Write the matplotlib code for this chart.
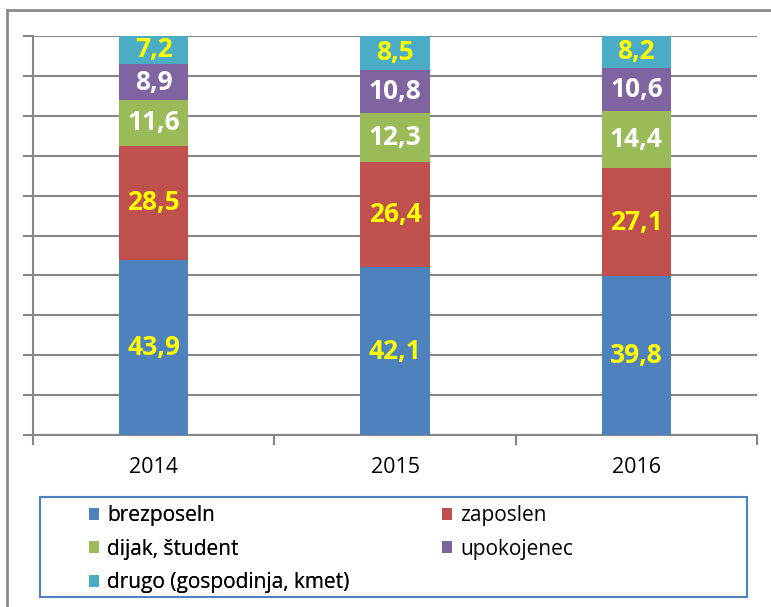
import matplotlib
matplotlib.use("Agg")
import matplotlib.pyplot as plt
from matplotlib.patches import Rectangle
from matplotlib.lines import Line2D
import numpy as np

years = ["2014", "2015", "2016"]
series_names = ["brezposeln", "zaposlen", "dijak, študent", "upokojenec", "drugo (gospodinja, kmet)"]
brezposeln = [43.9, 42.1, 39.8]
zaposlen = [28.5, 26.4, 27.1]
dijak = [11.6, 12.3, 14.4]
upokojenec = [8.9, 10.8, 10.6]
drugo = [7.2, 8.5, 8.2]
series_values = [brezposeln, zaposlen, dijak, upokojenec, drugo]
colors = ["#4F81BD", "#C0504D", "#9BBB59", "#8064A2", "#4BACC6"]
label_colors = ["#FFFF00", "#FFFF00", "#FFFFFF", "#FFFFFF", "#FFFF00"]

plt.rcParams['font.family'] = ['Open Sans', 'DejaVu Sans']

W, H = 771, 607
fig = plt.figure(figsize=(W / 100, H / 100), dpi=100)
ax = fig.add_axes([33 / W, 1 - 435 / H, (757 - 33) / W, (435 - 36) / H])

x = np.arange(len(years))
bottom = np.zeros(len(years))
handles = []
for name, vals, c, lc in zip(series_names, series_values, colors, label_colors):
    vals = np.array(vals)
    bars = ax.bar(x, vals, width=0.286, bottom=bottom, color=c, label=name, zorder=3)
    handles.append(bars)
    for xi, b, v in zip(x, bottom, vals):
        ax.text(xi, b + v / 2, f"{v:.1f}".replace(".", ","), ha="center", va="center",
                color=lc, fontsize=19, fontweight="bold", zorder=4)
    bottom += vals

gray = "#868686"
ax.set_xlim(-0.5, len(years) - 0.5)
ax.set_ylim(0, 100)
ax.set_yticks(np.arange(0, 101, 10))
ax.set_yticklabels([])
ax.yaxis.grid(True, color=gray, linewidth=1.5, zorder=0)
ax.tick_params(axis="y", length=7, width=1.5, color=gray, direction="out")
ax.set_xticks(x)
ax.set_xticklabels(years, fontsize=15.5)
ax.tick_params(axis="x", length=0, pad=16)
ax.set_xticks(np.arange(-0.5, len(years), 1.0), minor=True)
ax.tick_params(axis="x", which="minor", length=7, width=1.5, color=gray, direction="out")
for s in ["top", "right"]:
    ax.spines[s].set_visible(False)
for s in ["left", "bottom"]:
    ax.spines[s].set_color(gray)
    ax.spines[s].set_linewidth(1.5)

# outer chart border (top and left visible)
fig.add_artist(Line2D([7 / W, 7 / W], [0, 1 - 10 / H], color="#8C8C8C", linewidth=2, transform=fig.transFigure))
fig.add_artist(Line2D([7 / W, 1], [1 - 10 / H, 1 - 10 / H], color="#8C8C8C", linewidth=2, transform=fig.transFigure))

# legend frame
fig.add_artist(Rectangle((40 / W, 1 - 597 / H), (747 - 40) / W, (597 - 497) / H,
                         transform=fig.transFigure, fill=False, edgecolor="#4F81BD", linewidth=1.5))

kw = dict(frameon=False, prop={"family": ["Open Sans", "DejaVu Sans"], "size": 15, "weight": "normal"},
          handlelength=0.5, handleheight=0.5,
          handletextpad=0.38, labelspacing=0.6, borderpad=0, borderaxespad=0, loc="upper left")
leg1 = fig.legend([handles[0], handles[2], handles[4]], [series_names[0], series_names[2], series_names[4]],
                  bbox_to_anchor=(89 / W, 1 - 505 / H), **kw)
fig.add_artist(leg1)
leg2 = fig.legend([handles[1], handles[3]], [series_names[1], series_names[3]],
                  bbox_to_anchor=(442 / W, 1 - 505 / H), **kw)

fig.savefig("out.png", dpi=100)
